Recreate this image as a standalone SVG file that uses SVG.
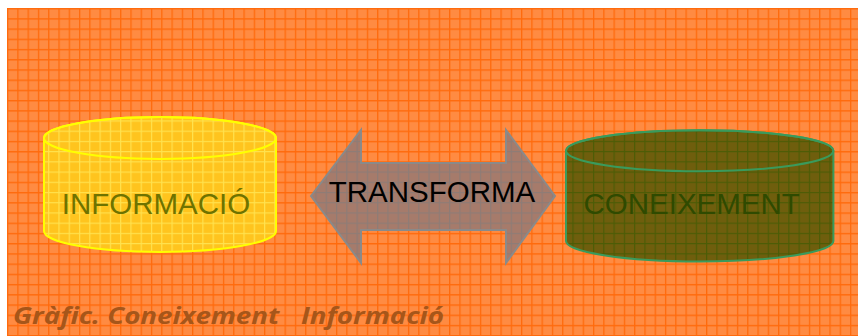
<svg xmlns="http://www.w3.org/2000/svg" width="858" height="336" viewBox="0 0 858 336">
  <style>
    .lbl { font-family: "Liberation Sans", Arial, sans-serif; font-size: 29.5px; text-anchor: middle; }
    .cap { font-family: "Open Sans", "Liberation Sans", sans-serif; font-size: 23.5px; font-weight: bold; font-style: italic; fill: #A6561A; }
  </style>
  <defs>
    <pattern id="pBg" patternUnits="userSpaceOnUse" x="7" y="8" width="10.28" height="10.22">
      <rect width="10.28" height="10.22" fill="#FF8B42"/>
      <path d="M0.6 0 V10.22 M0 0.6 H10.28" stroke="#FF6A0C" stroke-width="1.4" fill="none"/>
    </pattern>
    <pattern id="pYel" patternUnits="userSpaceOnUse" x="7" y="8" width="10.28" height="10.22">
      <rect width="10.28" height="10.22" fill="#FFC41E"/>
      <path d="M0.6 0 V10.22 M0 0.6 H10.28" stroke="#FFE24E" stroke-width="1.2" fill="none"/>
    </pattern>
    <pattern id="pArr" patternUnits="userSpaceOnUse" x="7" y="8" width="10.28" height="10.22">
      <rect width="10.28" height="10.22" fill="#A67B6B"/>
      <path d="M0.6 0 V10.22 M0 0.6 H10.28" stroke="#8E7C76" stroke-width="1.2" fill="none"/>
    </pattern>
    <pattern id="pGrn" patternUnits="userSpaceOnUse" x="7" y="8" width="10.28" height="10.22">
      <rect width="10.28" height="10.22" fill="#6F5E0D"/>
      <path d="M0.6 0 V10.22 M0 0.6 H10.28" stroke="#4C5C06" stroke-width="1.2" fill="none"/>
    </pattern>
  </defs>

  <rect x="0" y="0" width="858" height="336" fill="#FFFFFF"/>
  <rect id="background" x="7" y="8" width="851" height="328" fill="url(#pBg)"/>

  <g id="informacio">
    <path d="M44 138 A116 21 0 0 1 276 138 V231 A116 21 0 0 1 44 231 Z" fill="url(#pYel)" stroke="#FFFF00" stroke-width="2"/>
    <ellipse cx="160" cy="138" rx="116" ry="21" fill="none" stroke="#FFFF00" stroke-width="2"/>
    <text class="lbl" x="156" y="214" fill="#6E7300">INFORMACIÓ</text>
  </g>

  <g id="connectors">
    <g id="transforma">
      <polygon points="311,196 361,130 361,163 506,163 506,130 555,196 506,263 506,230 361,230 361,263" fill="url(#pArr)" stroke="#8A8A8A" stroke-width="2" stroke-linejoin="miter"/>
      <text class="lbl" x="432" y="202" fill="#000000">TRANSFORMA</text>
    </g>
  </g>

  <g id="coneixement">
    <path d="M566 150.7 A133.7 20.5 0 0 1 833.4 150.7 V241 A133.7 20.5 0 0 1 566 241 Z" fill="url(#pGrn)" stroke="#3A9A5C" stroke-width="2"/>
    <ellipse cx="699.7" cy="150.7" rx="133.7" ry="20.5" fill="none" stroke="#3A9A5C" stroke-width="2"/>
    <text class="lbl" x="691.7" y="214" fill="#2F4A00">CONEIXEMENT</text>
  </g>

  <g id="caption">
    <text class="cap" x="13" y="324" xml:space="preserve" textLength="431" lengthAdjust="spacingAndGlyphs">Gràfic. Coneixement   Informació</text>
  </g>
</svg>
